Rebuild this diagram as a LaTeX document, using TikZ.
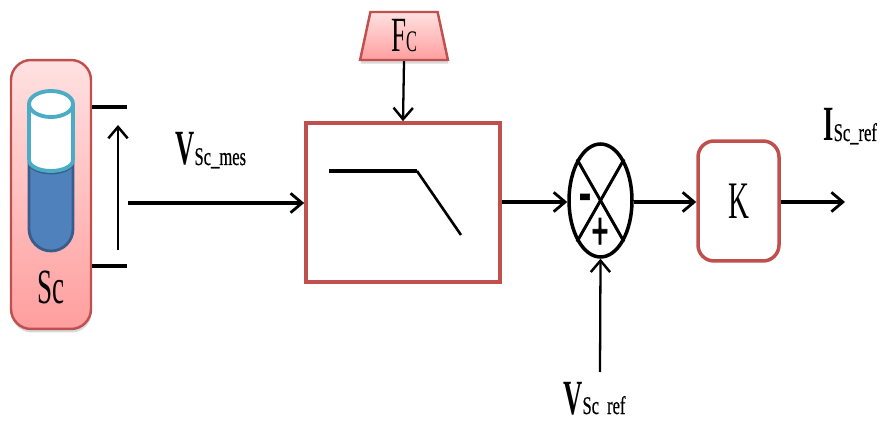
\documentclass[tikz,border=0pt]{standalone}
\usepackage{fontspec}
\setmainfont{Liberation Serif}
\usetikzlibrary{arrows.meta}
\usetikzlibrary{shapes.geometric, shadows}
\definecolor{myred}{RGB}{192, 80, 77}
\definecolor{myteal}{RGB}{75, 172, 198}
\definecolor{myblue}{RGB}{79, 129, 189}
\definecolor{mydarkblue}{RGB}{56, 93, 138}
\definecolor{mypinktop}{RGB}{255, 225, 225}
\definecolor{mypinkbot}{RGB}{255, 158, 158}
\newcommand{\tall}[2]{\scalebox{0.55}[1]{\fontsize{#1}{#1}\selectfont #2}}
\newcommand{\siglabel}[2]{\scalebox{0.54}[1]{\fontsize{28}{28}\selectfont\bfseries #1}\scalebox{0.65}[1]{\fontsize{14.5}{14.5}\selectfont\addfontfeature{FakeBold=0.6} #2}}
\tikzset{
wire/.style={-{Straight Barb[length=6.5pt,width=11pt,line width=1.6pt]},line width=2pt},
thinwire/.style={-{Straight Barb[length=6.5pt,width=11pt,line width=1.4pt]},line width=1.3pt},
pinkbox/.style={draw=myred,line width=1.4pt,top color=mypinktop,bottom color=mypinkbot,drop shadow={opacity=0.3,shadow xshift=0.3pt,shadow yshift=-2pt}},
siglbl/.style={anchor=base west,inner sep=0pt},
}

\begin{document}
\begin{tikzpicture}[x=0.02cm,y=-0.02cm]
\useasboundingbox (0,0) rectangle (881,425);

%source
\node[pinkbox,rounded corners=0.4cm,minimum width=1.6cm,minimum height=5.38cm] (sc) at (51,194.5) {};
\node[inner sep=0pt] (sclbl) at (51,287) {\tall{28}{Sc}};

%tube
\fill[white] (29,104) -- (29,160) arc(180:0:22 and 11) -- (73,104) -- cycle;
\fill[myblue,draw=mydarkblue,line width=1.6pt] (29,162) -- (29,229) arc(180:0:22 and 22) -- (73,162) arc(0:180:22 and 11) -- cycle;
\draw[myteal,line width=2.2pt] (29,160) arc(180:0:22 and 11);
\draw[myteal,line width=2.2pt] (29,160) -- (29,104) (73,104) -- (73,160);
\draw[myteal,fill=white,line width=2.2pt] (51,104) ellipse (22 and 13);

%blocks
\node[trapezium,trapezium stretches=true,trapezium left angle=83,trapezium right angle=83,pinkbox,inner sep=0pt,minimum width=1.76cm,minimum height=0.96cm] (fc) at (404,36) {\raisebox{-2pt}{\tall{28}{F}\tall{17}{C}}};
\node[draw=myred,line width=2.1pt,minimum width=3.88cm,minimum height=3.18cm] (filter) at (403,202.5) {};
\node[ellipse,draw,line width=2pt,minimum width=1.26cm,minimum height=2.26cm,inner sep=0pt] (sum) at (600.5,200.5) {};
\node[draw=myred,line width=2pt,rounded corners=0.32cm,minimum width=1.62cm,minimum height=2.4cm] (gain) at (738.5,201) {\tall{30}{K}};

%cross and signs
\draw[line width=1.7pt] (sum.north west) -- (sum.south east);
\draw[line width=1.7pt] (sum.north east) -- (sum.south west);
\node[inner sep=0pt] (minus) at (585,203) {\tall{36}{\bfseries\addfontfeature{FakeBold=1.5} -}};
\node[inner sep=0pt] (plus) at (600,234) {\tall{32}{\bfseries\addfontfeature{FakeBold=1.5} +}};

%filter curve
\draw[line width=2pt] (329,171) -- (417,171);
\draw[line width=1.5pt] (417,171) -- (461,235);

%free ends
\coordinate (termA) at (127,107);
\coordinate (termB) at (127,266);
\coordinate (measA) at (118,250);
\coordinate (measB) at (118,125);
\coordinate (inp) at (128,203);
\coordinate (out) at (845,202);
\coordinate (refin) at (600,372);

%connectors
\draw[line width=2pt] (sc.east |- termA) -- (termA);
\draw[line width=2pt] (sc.east |- termB) -- (termB);
\draw[thinwire] (measA) -- (measB);
\draw[wire] (inp) -- (filter.west |- inp);
\draw[thinwire] (fc.south) -- (filter.north);
\draw[wire] (filter.east |- 0,202) -- (sum.west |- 0,202);
\draw[wire] (sum.east |- 0,202) -- (gain.west |- 0,202);
\draw[wire] (gain.east |- 0,202) -- (out);
\draw[thinwire] (refin) -- (sum.south);

%labels
\node[siglbl] (vmes) at (175,165) {\siglabel{V}{Sc\_mes}};
\node[siglbl] (iref) at (823,141) {\siglabel{I}{Sc\_ref}};
\node[siglbl] (vref) at (563,414) {\siglabel{V}{Sc\hspace{7pt}ref}};
\end{tikzpicture}
\end{document}
